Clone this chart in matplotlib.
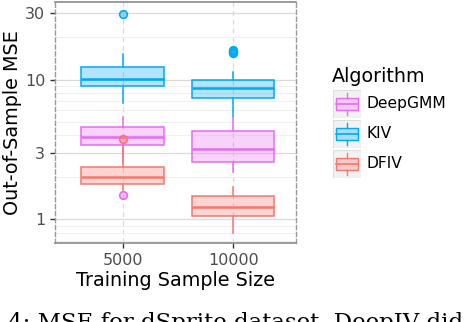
import numpy as np
import matplotlib
matplotlib.use("Agg")
from matplotlib import pyplot as plt
from matplotlib.patches import Rectangle

# Data (Out-of-sample MSE, log scale)
sizes = ["5000", "10000"]
algorithms = ["DeepGMM", "KIV", "DFIV"]
colors = {"DeepGMM": "#E76BF3", "KIV": "#00A9F4", "DFIV": "#F8766D"}

# per algorithm: [5000, 10000]
whislo = {"DeepGMM": [2.6, 2.17], "KIV": [6.8, 5.5], "DFIV": [1.61, 0.80]}
q1 = {"DeepGMM": [3.41, 2.55], "KIV": [8.96, 7.4], "DFIV": [1.79, 1.055]}
med = {"DeepGMM": [3.89, 3.18], "KIV": [10.05, 8.67], "DFIV": [2.02, 1.22]}
q3 = {"DeepGMM": [4.56, 4.29], "KIV": [12.2, 10.0], "DFIV": [2.35, 1.46]}
whishi = {"DeepGMM": [5.42, 5.42], "KIV": [15.3, 11.3], "DFIV": [3.3, 1.70]}
fliers = {"DeepGMM": [[1.50], []],
          "KIV": [[29.3], [15.4, 15.8, 16.1, 16.4]],
          "DFIV": [[3.78], []]}

yticks = [1, 3, 10, 30]

fig = plt.figure(figsize=(4.74, 3.22), dpi=100)
ax = fig.add_axes([55 / 474, 1 - 243 / 322, 241 / 474, 241 / 322])

for k, alg in enumerate(algorithms):
    c = colors[alg]
    stats = []
    for i in range(len(sizes)):
        stats.append(dict(whislo=whislo[alg][i], q1=q1[alg][i], med=med[alg][i],
                          q3=q3[alg][i], whishi=whishi[alg][i], fliers=fliers[alg][i]))
    ax.bxp(stats, positions=range(len(sizes)), widths=0.75, patch_artist=True,
           showcaps=False,
           boxprops=dict(facecolor=matplotlib.colors.to_rgba(c, 0.3), edgecolor=c, linewidth=1.1),
           medianprops=dict(color=c, linewidth=1.8),
           whiskerprops=dict(color=c, linewidth=1.1),
           flierprops=dict(marker="o", markersize=5.5, markeredgecolor=c,
                           markerfacecolor=matplotlib.colors.to_rgba(c, 0.4),
                           markeredgewidth=1.2, zorder=5))

ax.set_yscale("log")
ax.set_ylim(0.675, 35.9)
ax.set_xlim(-0.615, 1.57)
ax.set_yticks(yticks)
ax.set_yticklabels([str(t) for t in yticks])
ax.yaxis.set_minor_locator(matplotlib.ticker.LogLocator(subs=np.arange(2, 10)))
ax.yaxis.set_minor_formatter(matplotlib.ticker.NullFormatter())
ax.set_xticks(range(len(sizes)))
ax.set_xticklabels(sizes)

ax.set_axisbelow(True)
ax.grid(axis="y", which="major", color="#DADADA", linewidth=0.9)
ax.grid(axis="y", which="minor", color="#EEEEEE", linewidth=0.6)
ax.grid(axis="x", which="major", color="#DADADA", linewidth=0.9, linestyle=(0, (4, 3)))
ax.tick_params(axis="y", which="minor", length=0)
ax.tick_params(axis="both", which="major", length=3.5, width=1, color="#333333",
               labelcolor="#4D4D4D", labelsize=11.5)

for side in ["top", "bottom"]:
    ax.spines[side].set_color("#8A8A8A")
    ax.spines[side].set_linewidth(1.2)
for side in ["left", "right"]:
    ax.spines[side].set_color("#9A9A9A")
    ax.spines[side].set_linewidth(1.0)
    ax.spines[side].set_linestyle((0, (3, 2)))

ax.set_xlabel("Training Sample Size", fontsize=13.8, labelpad=2)
ax.set_ylabel("Out-of-Sample MSE", fontsize=13.8, labelpad=2)

# Legend drawn by hand, ggplot-style keys
fig.text(332 / 474, 1 - 76 / 322, "Algorithm", fontsize=13.8, va="center", ha="left")
for k, alg in enumerate(algorithms):
    c = colors[alg]
    yc = 1 - (104 + 30 * k) / 322
    kax = fig.add_axes([333 / 474, yc - 14 / 322, 28 / 474, 28 / 322])
    kax.set_xlim(0, 1)
    kax.set_ylim(0, 1)
    kax.axis("off")
    kax.add_patch(Rectangle((0, 0), 1, 1, facecolor="#F2F2F2", edgecolor="#DDDDDD", lw=0.8))
    kax.plot([0.5, 0.5], [0.12, 0.3], color=c, lw=1)
    kax.plot([0.5, 0.5], [0.7, 0.88], color=c, lw=1)
    kax.add_patch(Rectangle((0.12, 0.3), 0.76, 0.4,
                            facecolor=matplotlib.colors.to_rgba(c, 0.3), edgecolor=c, lw=1))
    kax.plot([0.12, 0.88], [0.5, 0.5], color=c, lw=1.2)
    fig.text(367 / 474, yc, alg, fontsize=11.2, va="center", ha="left")

# Caption fragment cut off by the crop
fig.text(8 / 474, 1 - 312 / 322, "4: MSE for dSprite dataset. DeepIV did",
         fontsize=16.5, family="DejaVu Serif", va="top", ha="left")

fig.savefig("out.png", dpi=100)
